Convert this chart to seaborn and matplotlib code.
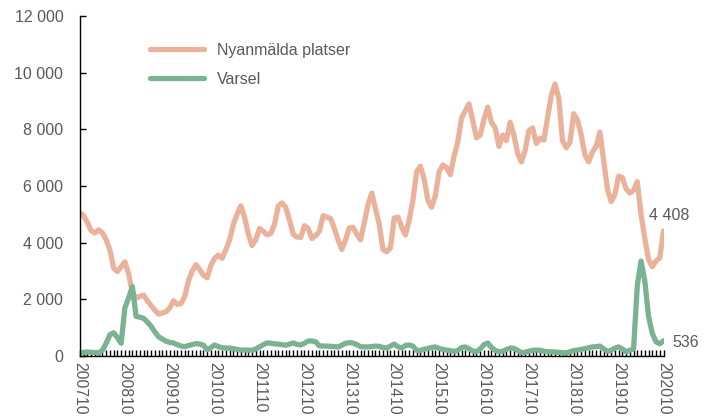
import numpy as np
import pandas as pd
import matplotlib
matplotlib.use("Agg")
import matplotlib.pyplot as plt
import seaborn as sns

# Monthly data, 2007-10 .. 2020-10
start_year = 2007
start_month = 10
tick_years = list(range(2007, 2021))
tick_labels = [f"{y}10" for y in tick_years]

nyanmalda = [
    5050, 4950, 4700, 4420, 4340, 4450, 4350, 4100, 3740, 3100,
    2980, 3150, 3320, 2900, 2250, 2050, 2100, 2150, 1950, 1780,
    1620, 1480, 1520, 1560, 1700, 1950, 1820, 1850, 2100, 2650,
    3000, 3220, 3050, 2850, 2760, 3200, 3450, 3560, 3450, 3750,
    4100, 4650, 5000, 5300, 4900, 4300, 3900, 4100, 4500, 4400,
    4280, 4320, 4650, 5300, 5400, 5250, 4800, 4300, 4200, 4180,
    4600, 4500, 4150, 4250, 4400, 4950, 4900, 4850, 4500, 4100,
    3760, 4100, 4520, 4540, 4300, 4100, 4700, 5350, 5750, 5200,
    4650, 3760, 3680, 3820, 4870, 4900, 4550, 4270, 4800, 5500,
    6500, 6700, 6250, 5500, 5250, 5650, 6500, 6740, 6650, 6400,
    7050, 7550, 8400, 8650, 8900, 8300, 7700, 7800, 8350, 8780,
    8250, 8050, 7400, 7800, 7600, 8250, 7800, 7150, 6850, 7250,
    7950, 8050, 7500, 7690, 7620, 8400, 9200, 9600, 9100, 7600,
    7350, 7550, 8550, 8330, 7800, 7100, 6850, 7200, 7400, 7900,
    6900, 5900, 5450, 5700, 6350, 6300, 5900, 5750, 5850, 6150,
    5000, 4150, 3400, 3150, 3350, 3460, 4408,
]

varsel = [
    120, 130, 140, 130, 120, 110, 200, 450, 750, 820,
    650, 450, 1700, 2050, 2450, 1400, 1370, 1330, 1200, 1050,
    850, 680, 600, 520, 480, 460, 400, 350, 330, 370,
    400, 440, 420, 380, 220, 300, 390, 330, 290, 280,
    280, 260, 230, 210, 210, 210, 200, 250, 320, 400,
    460, 450, 430, 420, 400, 380, 420, 460, 410, 390,
    450, 530, 530, 500, 360, 350, 350, 340, 330, 320,
    380, 450, 470, 460, 400, 330, 320, 320, 330, 350,
    340, 300, 280, 350, 420, 330, 280, 370, 390, 350,
    200, 190, 240, 260, 300, 320, 270, 230, 210, 190,
    160, 200, 300, 320, 250, 180, 150, 250, 400, 460,
    300, 200, 150, 170, 230, 280, 270, 200, 120, 130,
    170, 200, 210, 200, 170, 150, 150, 140, 130, 110,
    110, 150, 190, 210, 230, 260, 290, 320, 330, 350,
    250, 170, 200, 280, 320, 250, 150, 200, 250, 2500,
    3350, 2650, 1400, 800, 500, 430, 536,
]

series_names = ["Nyanmälda platser", "Varsel"]
colors = ["#EBB29B", "#7BB292"]

n = len(nyanmalda)
idx = np.arange(n)
df = pd.DataFrame({
    "i": np.concatenate([idx, idx]),
    "value": nyanmalda + varsel,
    "serie": [series_names[0]] * n + [series_names[1]] * n,
})

sns.set_theme(style="white")
plt.rcParams["font.family"] = ["Liberation Sans", "DejaVu Sans"]
txt = "#595959"

fig = plt.figure(figsize=(7.10, 4.19), dpi=100)
ax = fig.add_axes([80 / 710, 63 / 419, 583.5 / 710, 340 / 419])

sns.lineplot(data=df, x="i", y="value", hue="serie", palette=colors,
             linewidth=3.8, ax=ax, legend=True)

ax.set_xlim(0, n - 1)
ax.set_ylim(0, 12000)
ax.set_yticks(range(0, 12001, 2000))
ax.set_yticklabels([f"{v:,}".replace(",", " ") for v in range(0, 12001, 2000)])

labels = [""] * n
for k, lab in enumerate(tick_labels):
    pos = k * 12
    if pos < n:
        labels[pos] = lab
ax.set_xticks(idx)
ax.set_xticklabels(labels, rotation=-90, ha="center", va="top")

ax.tick_params(axis="x", direction="in", length=4, width=1, color="black",
               labelsize=11.3, labelcolor=txt, pad=4, bottom=True)
ax.tick_params(axis="y", direction="in", length=4, width=1, color="black",
               labelsize=11.5, labelcolor=txt, pad=12, left=True)
ax.set_xlabel("")
ax.set_ylabel("")
for s in ["top", "right"]:
    ax.spines[s].set_visible(False)
for s in ["left", "bottom"]:
    ax.spines[s].set_color("black")
    ax.spines[s].set_linewidth(1)

leg = ax.legend(loc="upper left", bbox_to_anchor=((150 - 80) / 583.5, (356 - 43) / 340),
                frameon=False, fontsize=11.5, handlelength=3.4, handletextpad=0.8,
                labelspacing=0.85, borderpad=0, borderaxespad=0)
for t in leg.get_texts():
    t.set_color(txt)
for l in leg.get_lines():
    l.set_linewidth(3.8)

ax.annotate("4 408", xy=(n - 1, nyanmalda[-1]), xytext=(4, 11.5),
            textcoords="offset points", ha="center", va="center",
            fontsize=11.5, color=txt, annotation_clip=False)
ax.annotate("536", xy=(n - 1, varsel[-1]), xytext=(6.5, -1.5),
            textcoords="offset points", ha="left", va="center",
            fontsize=11.5, color=txt, annotation_clip=False)

fig.savefig("out.png", dpi=100)
